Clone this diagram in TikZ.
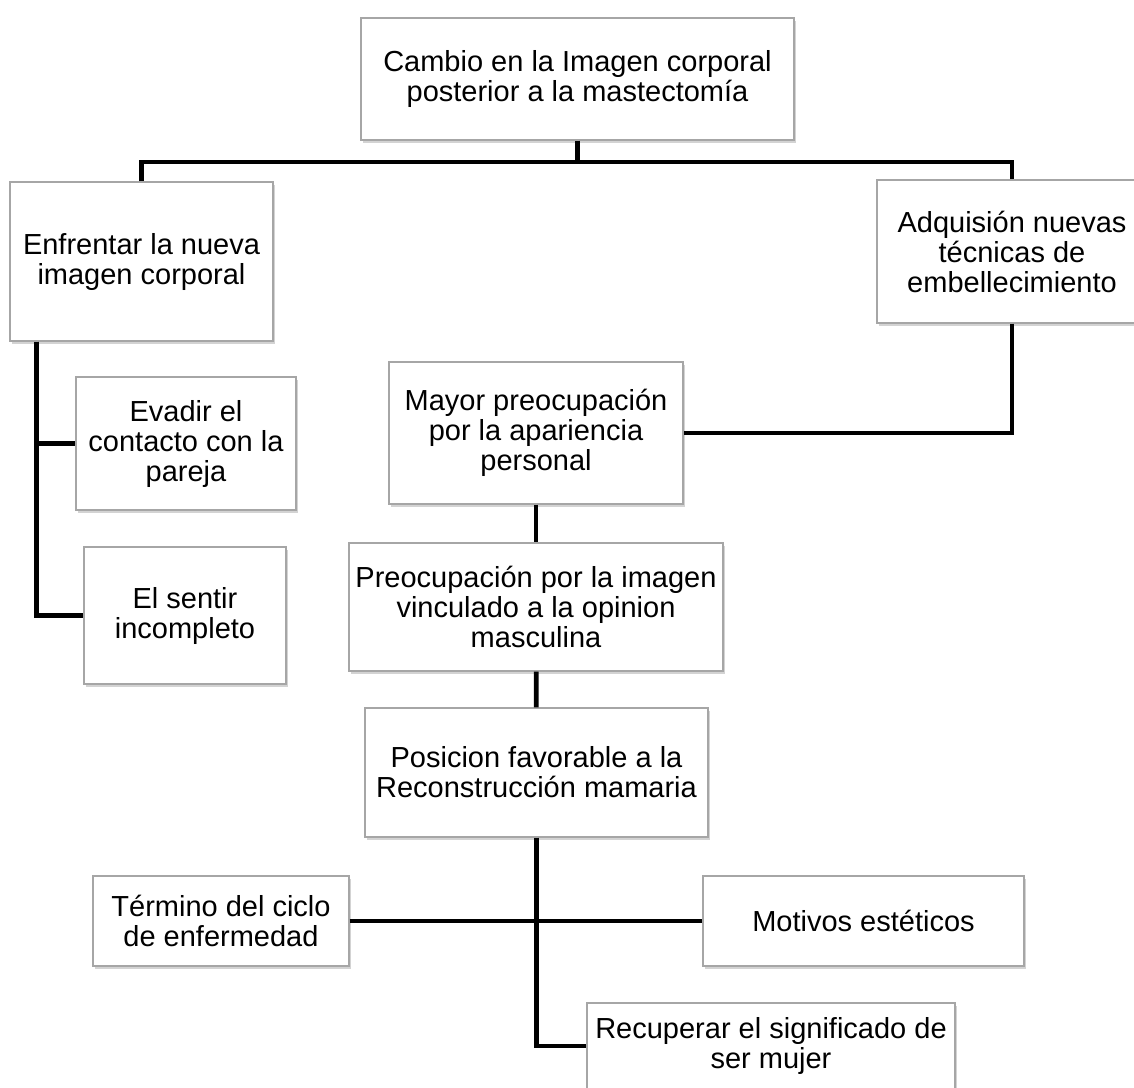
\documentclass[tikz,border=0pt]{standalone}
\usepackage{fontspec}
\setmainfont{Liberation Sans}
\usetikzlibrary{shadows}

\begin{document}
\begin{tikzpicture}[x=0.5pt, y=-0.5pt,
    box/.style={draw=gray!70, line width=0.6pt, fill=white, align=center, inner sep=0pt,
      font=\fontsize{14.5}{15}\selectfont,
      drop shadow={shadow xshift=1.2pt, shadow yshift=-1.5pt, opacity=0.35, fill=gray}},
    conn/.style={line width=2.4pt, black}]
    \useasboundingbox (0,0) rectangle (1134,1087);

    % 1. Cajas
    \node[box, minimum width=216.5pt, minimum height=61pt] (top) at (577.5,79) {Cambio en la Imagen corporal\\posterior a la mastectomía};
    \node[box, minimum width=131.5pt, minimum height=79.5pt] (enfr) at (141.5,261.5) {Enfrentar la nueva\\imagen corporal};
    \node[box, minimum width=135pt, minimum height=71.5pt] (adq) at (1012,251.5) {Adquisión nuevas\\técnicas de\\embellecimiento};

    \node[box, minimum width=110pt, minimum height=66.5pt] (evad) at (186,443.5) {Evadir el\\contacto con la\\pareja};
    \node[box, minimum width=101pt, minimum height=68.5pt] (sent) at (185,615.5) {El sentir\\incompleto};

    \node[box, minimum width=147pt, minimum height=71pt] (mayor) at (536,433) {Mayor preocupación\\por la apariencia\\personal};
    \node[box, minimum width=187pt, minimum height=64pt] (preo) at (536,607) {Preocupación por la imagen\\vinculado a la opinion\\masculina};
    \node[box, minimum width=171.5pt, minimum height=64.5pt] (posi) at (536.5,772.5) {Posicion favorable a la\\Reconstrucción mamaria};

    \node[box, minimum width=128pt, minimum height=45pt] (term) at (221,921) {Término del ciclo\\de enfermedad};
    \node[box, minimum width=160.5pt, minimum height=45pt] (moti) at (863.5,921) {Motivos estéticos};
    \node[box, minimum width=184pt, minimum height=43pt] (recu) at (771,1046) {Recuperar el significado de\\ser mujer};

    % 2. Conectores
    \coordinate (hub) at (577.5,162);
    \draw[conn] (top) -- (hub);
    \draw[conn] (enfr.north) |- (hub) -| (adq.north);

    \draw[conn] ([xshift=13.5pt]enfr.south west) |- (evad.west);
    \draw[conn] ([xshift=13.5pt]enfr.south west) |- (sent.west);

    \draw[conn] (adq.south) |- (mayor.east);
    \draw[conn] (mayor) -- (preo);
    \draw[conn] (preo) -- (posi);

    \draw[conn] (posi.south) |- (recu.west);
    \draw[conn] (term.east) -- (moti.west);
\end{tikzpicture}
\end{document}
